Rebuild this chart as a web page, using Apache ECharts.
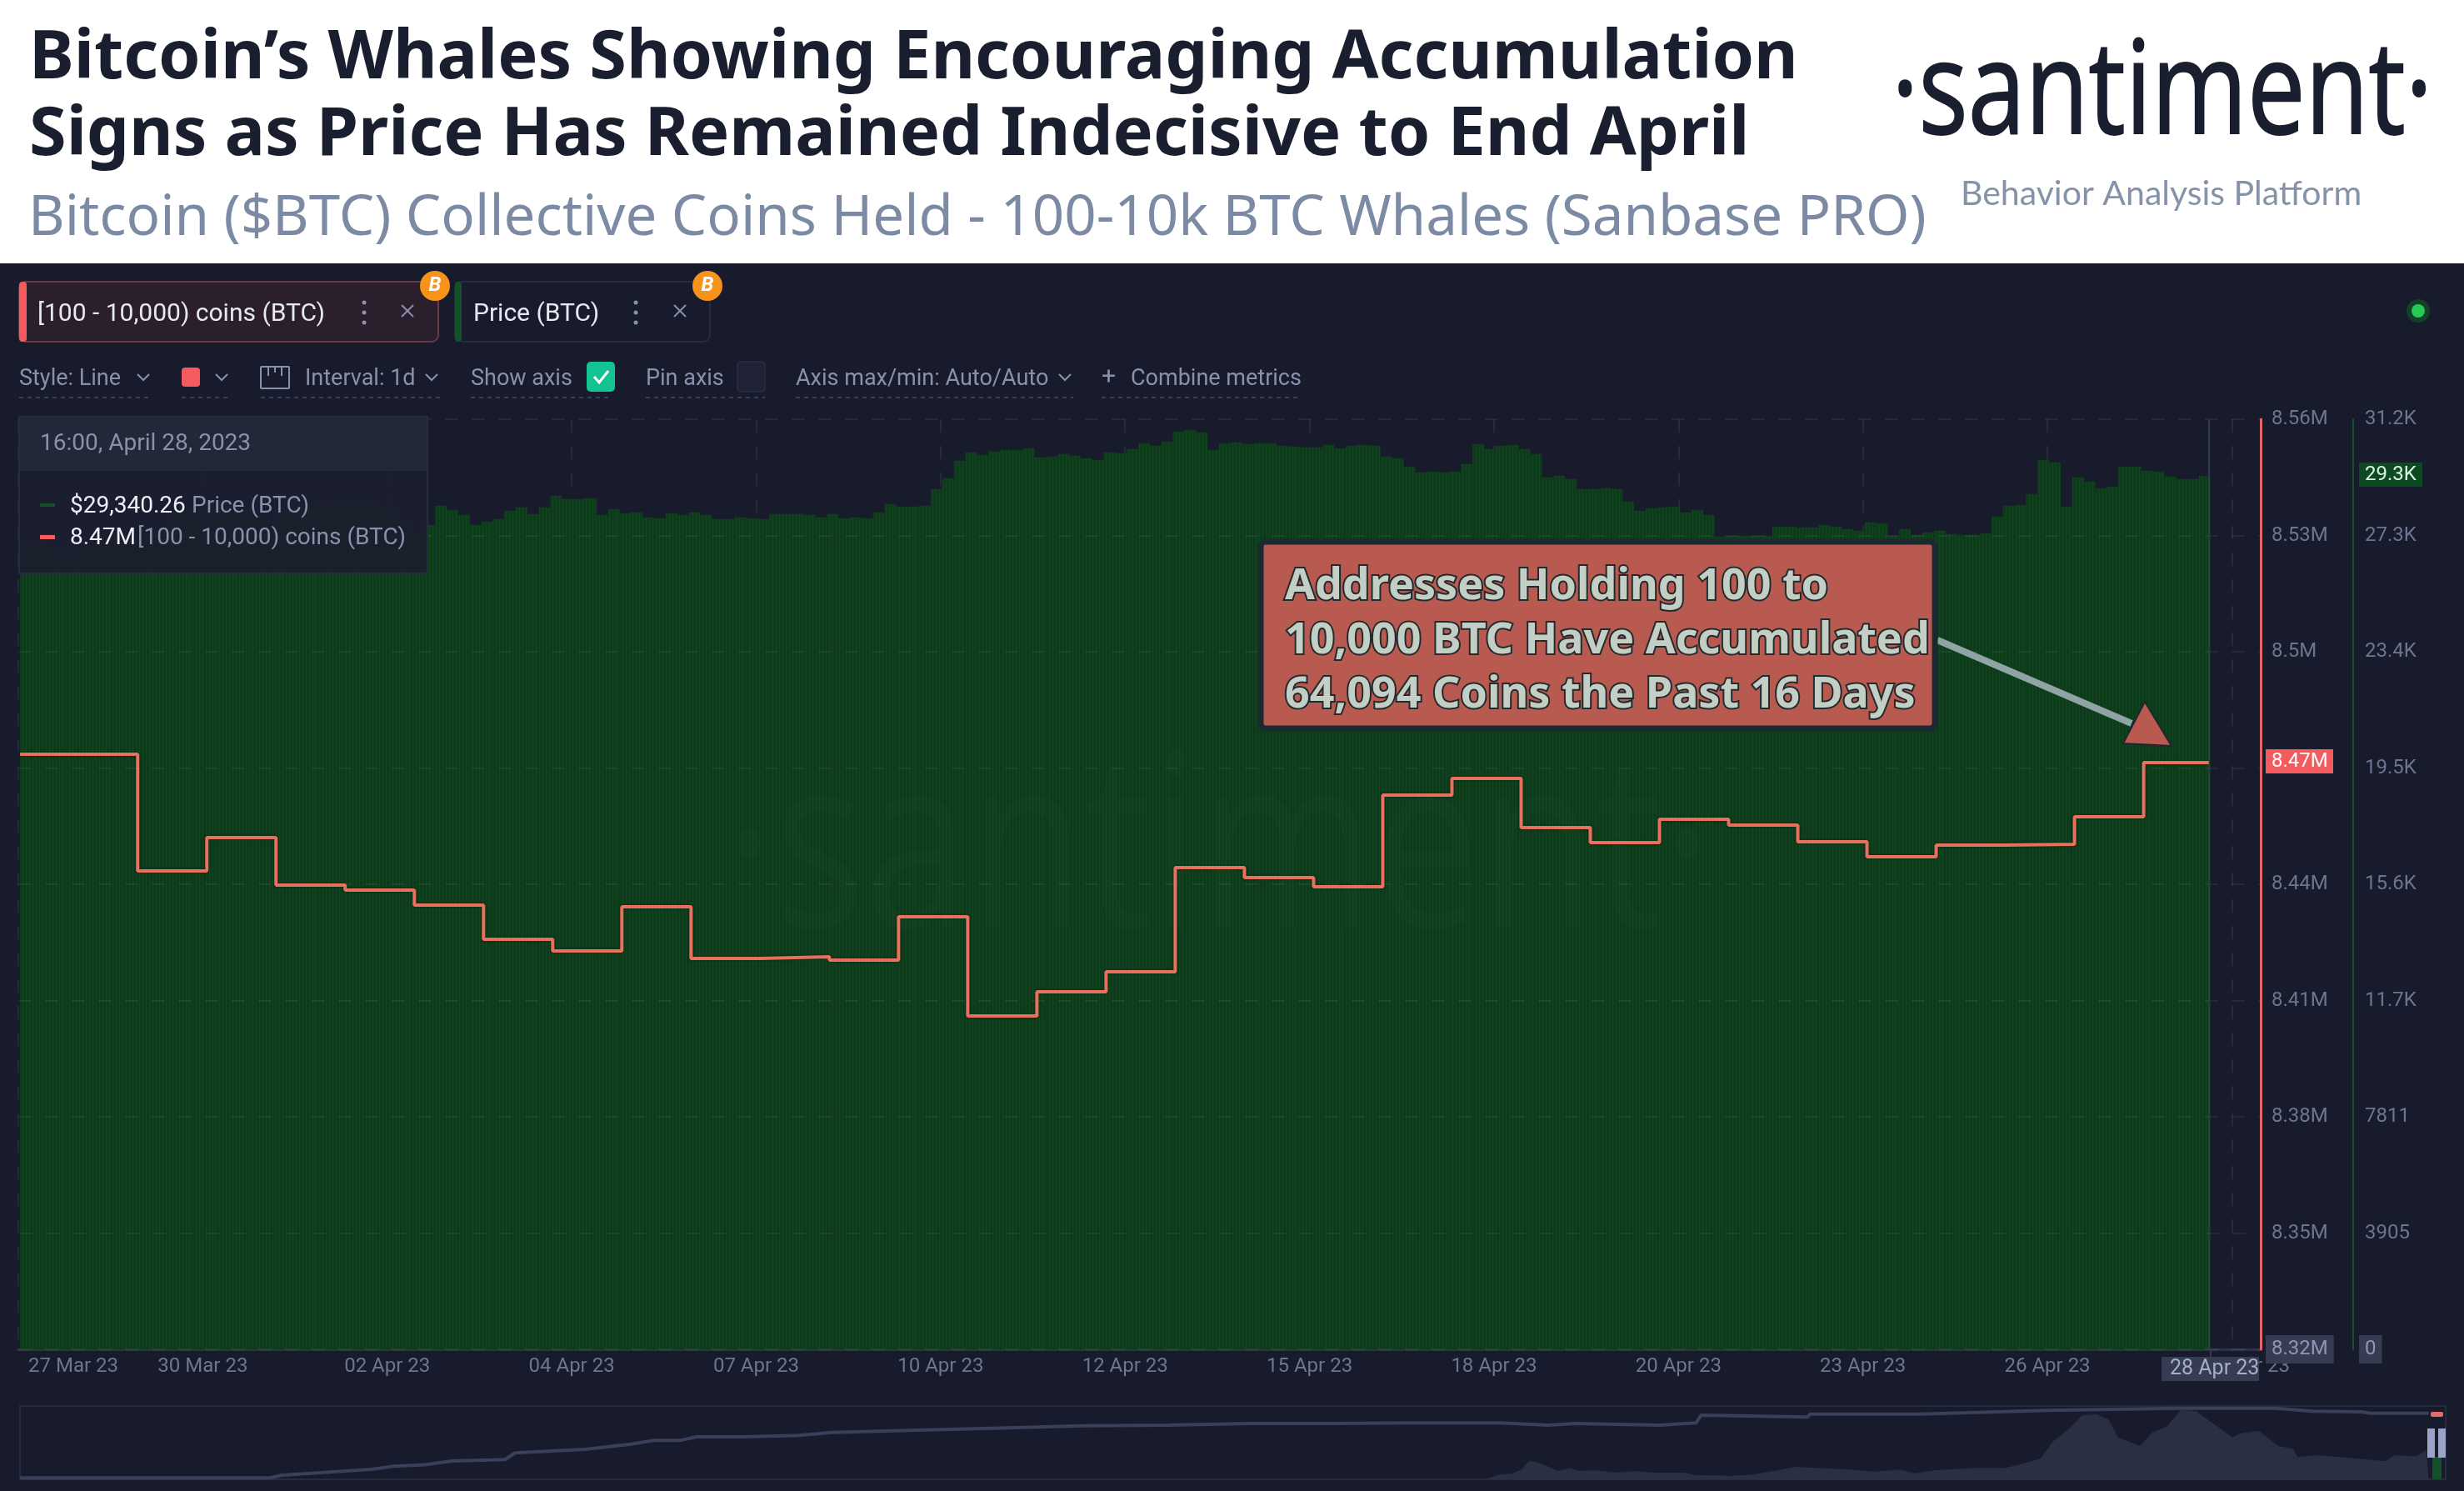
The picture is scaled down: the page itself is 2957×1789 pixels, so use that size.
<!DOCTYPE html>
<html>
<head>
<meta charset="utf-8">
<title>Bitcoin Whales</title>
<script src="https://cdn.jsdelivr.net/npm/echarts@6/dist/echarts.min.js"></script>
<style>
	html, body { margin: 0; padding: 0; background: #181b2b; }
	#chart { width: 2957px; height: 1789px; }
</style>
</head>
<body>
<div id="chart"></div>
<script>
// price (BTC), one value per 4 hours
var priceBtc = [
	27132, 26992, 26852, 26796, 26852, 26992, 27132, 27188, 27132, 27132, 27272, 27412, 27636, 27972, 28196, 28308, 28392, 28420, 28252, 28196,
	28028, 27832, 27972, 28196, 28308, 28420, 28364, 28420, 28448, 28420, 28364, 28252, 28112, 27832, 27412,
	27692, 28336, 28196, 28028, 27692, 27804, 27888, 28168, 28280, 28056, 28280, 28672, 28560, 28560, 28588, 28028, 28224, 28084, 28112, 27944,
	27916, 28084, 28028, 28112, 28028, 27888, 27888, 27944, 27916, 27888, 28056, 28056, 28056, 28028, 27944,
	28056, 27916, 27944, 27916, 28112, 28392, 28308, 28308, 28336, 28896, 29260, 29848, 30128, 30044, 30156, 30212, 30212, 30268, 29960, 29988,
	30072, 30016, 29932, 29876, 30128, 30100, 30240, 30436, 30352, 30492, 30828, 30884, 30800, 30212, 30436, 30464, 30408, 30436, 30436, 30352,
	30324, 30296, 30296, 30380, 30268, 30352, 30380, 30352, 29988, 29932, 29652, 29456, 29484, 29456, 29484, 29736, 30408, 30240, 30352, 30380,
	30240, 30072, 29288, 29344, 29232, 28896, 28896, 28924, 28896, 28476, 28168, 28252,
	28280, 28308, 28112, 28196, 28028, 27300, 27328, 27328, 27328, 27328, 27636, 27636, 27608, 27608, 27692, 27636, 27552, 27496, 27776, 27748,
	27328, 27552, 27356, 27440, 27496, 27384, 27356, 27356, 27412, 27972, 28336, 28364, 28728, 29876, 29792, 28308, 29288,
	29148, 28924, 28980, 29652, 29652, 29512, 29484, 29316, 29232, 29232, 29340.26
];

// [100 - 10,000) coins, one value per day
var whaleCoins = [
	8473700, 8443550, 8452170, 8439890, 8438600, 8434730, 8425900, 8422890, 8434300, 8420950,
	8421380, 8420520, 8431710, 8406090, 8412340, 8417500, 8444420, 8441830, 8439460, 8463150,
	8467450, 8454750, 8450870, 8456900, 8455400, 8451090, 8447210, 8450230, 8450440, 8457550,
	8471540
];

// overview strip at the bottom: [% across, % of height]
var navLine = [
	[0, 2], [8.6, 2], [10.3, 2], [10.8, 5.7], [14.5, 13.6], [15.4, 18], [16.7, 20], [17.8, 25], [20, 27], [20.4, 36],
	[23.3, 41], [25.2, 48], [26.1, 53], [27.2, 53], [27.9, 58], [29.9, 58], [32.1, 60], [33.5, 64], [37, 67], [40.4, 70],
	[43.8, 73], [47.3, 74], [50.7, 76], [54.1, 76], [57.6, 77], [61, 77], [63, 74], [64.1, 76], [67.6, 74], [69.1, 77],
	[69.3, 87.5], [73.7, 85], [73.8, 89], [78.3, 89], [83.6, 94], [88.9, 97], [93, 97], [94.5, 93], [96.5, 92], [96.9, 90], [99.3, 90]
];
var navPrice = [
	[60.4, 0], [61, 6.4], [61.5, 7.6], [61.9, 13.3], [62.2, 24.6], [62.5, 23.9], [62.9, 19], [63.4, 11.4], [63.9, 15.2], [64.3, 11.4],
	[64.9, 12.5], [65.8, 9.5], [66.6, 11], [67.4, 9.1], [68.6, 9.1], [69.1, 5.7], [70.6, 4.9], [71.4, 6.4], [72.3, 11.4], [73.2, 17],
	[74.2, 15.2], [75.5, 13.3], [76.5, 10.6], [77.5, 13.3], [78.1, 8.3], [79, 12.5], [80.5, 15.2], [81.8, 15.2], [82.5, 20.8], [83.3, 28.4],
	[83.8, 51], [84.5, 70], [85, 87], [85.6, 89], [86.1, 81.5], [86.5, 57], [87.4, 45.5], [87.9, 64], [88.5, 72], [89.1, 95],
	[89.7, 93], [90.6, 72], [91.2, 57], [91.5, 62.5], [92.3, 66], [93.1, 45.5], [93.7, 41.7], [93.9, 30.3], [94.7, 33], [96.5, 27.7],
	[97.5, 24.6], [97.9, 33], [98.8, 31.5], [99.2, 40]
];

var priceData = [];
for (var i = 0; i < priceBtc.length; i++) {
	priceData.push([4 * i + 2.6, priceBtc[i]]);
}

var whaleData = [[0.6, whaleCoins[0]]];
for (var i = 1; i < whaleCoins.length; i++) {
	whaleData.push([17.4 + 24 * i, whaleCoins[i]]);
}
whaleData.push([760, whaleCoins[whaleCoins.length - 1]]);

var navPriceData = navPrice.concat([[99.3, 0]]);

var MONTHS = ['Jan', 'Feb', 'Mar', 'Apr'];
var START = Date.UTC(2023, 2, 27, 16);

function hourLabel(h) {
	var d = new Date(START + h * 3600000);
	var day = d.getUTCDate();
	return (day < 10 ? '0' : '') + day + ' ' + MONTHS[d.getUTCMonth()] + ' 23';
}

var SANS = 'Roboto, sans-serif';
var MUTED = '#8a91ad';
var graphics = [];

function text(x, y, str, size, color, extra) {
	var el = {
		type: 'text', x: x, y: y, z: 50,
		style: {
			text: str, fontSize: size, fontFamily: SANS, fill: color,
			align: 'left', verticalAlign: 'middle'
		}
	};
	for (var k in extra) {
		if (k == 'style') {
			for (var s in extra.style) el.style[s] = extra.style[s];
		}
		else {
			el[k] = extra[k];
		}
	}
	graphics.push(el);
}

function rect(x, y, w, h, fill, stroke, r, lineWidth, z) {
	graphics.push({
		type: 'rect', z: z || 40,
		shape: { x: x, y: y, width: w, height: h, r: r || 0 },
		style: { fill: fill, stroke: stroke || null, lineWidth: lineWidth || 0 }
	});
}

function poly(points, color, width, z) {
	graphics.push({
		type: 'polyline', z: z || 50,
		shape: { points: points },
		style: { fill: null, stroke: color, lineWidth: width }
	});
}

function chevron(x, y) {
	poly([[x - 7, y - 3], [x, y + 4], [x + 7, y - 3]], MUTED, 2);
}

function kebab(x, y) {
	for (var i = -1; i <= 1; i++) {
		graphics.push({
			type: 'circle', z: 50,
			shape: { cx: x, cy: y + i * 12, r: 2.5 },
			style: { fill: MUTED }
		});
	}
}

function cross(x, y) {
	poly([[x - 7, y - 7], [x + 7, y + 7]], MUTED, 2);
	poly([[x + 7, y - 7], [x - 7, y + 7]], MUTED, 2);
}

function badge(x, y) {
	graphics.push({
		type: 'circle', z: 51,
		shape: { cx: x, cy: y, r: 18 },
		style: { fill: '#f7931a' }
	});
	text(x, y, 'B', 24, '#fff', { z: 52, style: { align: 'center', fontWeight: 700, fontStyle: 'italic' } });
}

function underline(x1, x2) {
	graphics.push({
		type: 'line', z: 40,
		shape: { x1: x1, y1: 477, x2: x2, y2: 477 },
		style: { stroke: '#3a3f55', lineWidth: 2, lineDash: [5, 5] }
	});
}

// header
rect(0, 0, 2957, 316, '#fff', null, 0, 0, 1);
text(2270, 116, '·santiment·', 155, '#1a1f2f', {
	scaleX: 0.8,
	style: { fontFamily: '"Open Sans"', stroke: '#1a1f2f', lineWidth: 2 }
});
text(2353, 233, 'Behavior Analysis Platform', 41, '#8593a8', { style: { fontFamily: 'Lato' } });

// metric chips
rect(23, 338, 503, 72, '#2c1f2d', '#6a3a46', 8, 2);
rect(23, 338, 9, 72, '#f45b5f', null, 4);
text(45, 377, '[100 - 10,000) coins (BTC)', 30, '#e6e8f2');
kebab(437, 375);
cross(489, 373);
badge(522, 343);
rect(546, 338, 306, 72, '#181b2b', '#262b3d', 8, 2);
rect(546, 338, 8, 72, '#14502a', null, 4);
text(568, 377, 'Price (BTC)', 30, '#e6e8f2');
kebab(763, 375);
cross(816, 373);
badge(849, 343);

// settings row
text(23, 455, 'Style: Line', 27, MUTED);
chevron(172, 452);
underline(23, 182);
rect(218, 441, 22, 23, '#f45b5f', null, 4);
chevron(266, 452);
underline(218, 276);
rect(313, 440, 34, 26, null, MUTED, 1, 2);
poly([[322, 440], [322, 451]], MUTED, 2);
poly([[330, 440], [330, 447]], MUTED, 2);
poly([[338, 440], [338, 451]], MUTED, 2);
text(366, 455, 'Interval: 1d', 27, MUTED);
chevron(518, 452);
underline(313, 528);
text(565, 455, 'Show axis', 27, MUTED);
rect(704, 434, 34, 36, '#14c393', null, 5);
poly([[713, 452], [719, 459], [730, 445]], '#fff', 3, 51);
underline(565, 735);
text(775, 455, 'Pin axis', 27, MUTED);
rect(885, 434, 33, 36, '#1f2335', '#262b3d', 5, 2);
underline(775, 918);
text(955, 455, 'Axis max/min: Auto/Auto', 27, MUTED);
chevron(1278, 452);
underline(955, 1288);
text(1322, 453, '+', 30, MUTED);
text(1357, 455, 'Combine metrics', 27, MUTED);
underline(1322, 1560);

// status dot
graphics.push({ type: 'circle', z: 40, shape: { cx: 2902, cy: 373, r: 14 }, style: { fill: '#14402a' } });
graphics.push({ type: 'circle', z: 41, shape: { cx: 2902, cy: 373, r: 8 }, style: { fill: '#26c953' } });

// hover box
rect(23, 500, 490, 188, 'rgba(27,30,46,0.93)', '#272c3e', 0, 2, 45);
rect(24, 501, 488, 64, '#232839', null, 0, 0, 46);
text(48, 533, '16:00, April 28, 2023', 28, MUTED, { z: 50 });
rect(48, 604, 18, 4, '#14502a', null, 0, 0, 47);
text(84, 608, '$29,340.26', 28, '#eef0f7');
text(230, 608, 'Price (BTC)', 28, MUTED);
rect(48, 642, 18, 5, '#f45b5f', null, 0, 0, 47);
text(84, 646, '8.47M', 28, '#eef0f7');
text(165, 646, '[100 - 10,000) coins (BTC)', 28, MUTED);

// watermark
text(870, 1030, '·santiment·', 290, 'rgba(255,255,255,0.016)', { z: 6, scaleX: 0.78, style: { fontFamily: '"Open Sans"' } });

// callout
poly([[2325, 768], [2558, 868]], '#8fa5a5', 8, 30);
graphics.push({
	type: 'polygon', z: 31,
	shape: { points: [[2574, 842], [2548, 892], [2606, 895]] },
	style: { fill: '#b85a50', stroke: '#20262e', lineWidth: 2 }
});
rect(1513, 650, 809, 224, '#b85a50', '#1b2a30', 6, 7, 30);
var NOTE = {
	z: 32,
	style: { fontFamily: '"Noto Sans"', fontWeight: 700, stroke: '#232a2e', lineWidth: 4, paintOrder: 'stroke' }
};
text(1542, 704, 'Addresses Holding 100 to', 52, '#c3cfc5', NOTE);
text(1542, 769, '10,000 BTC Have Accumulated', 52, '#c3cfc5', NOTE);
text(1542, 834, '64,094 Coins the Past 16 Days', 52, '#c3cfc5', NOTE);

// axis value tags
rect(2719, 899, 81, 29, '#f45b5f', null, 0, 0, 40);
text(2726, 914, '8.47M', 24, '#fff');
rect(2831, 555, 76, 29, '#0d4a22', null, 0, 0, 40);
text(2838, 570, '29.3K', 24, '#d9f5dd');

// crosshair date
poly([[2653, 1618], [2653, 1628]], '#333a4d', 2, 40);
rect(2594, 1628, 117, 29, '#363c52', null, 0, 0, 40);
text(2604, 1643, '28 Apr 23', 25, '#a5adca');

// overview selection
rect(2919, 1748, 11, 27, '#14502a', null, 0, 0, 40);
rect(2913, 1714, 9, 35, '#9aa3c7', null, 0, 0, 41);
rect(2926, 1714, 9, 35, '#9aa3c7', null, 0, 0, 41);
rect(2917, 1694, 15, 6, '#e8686b', null, 2, 0, 41);

var LABEL_RICH = {
	n: { color: '#6d7590', fontFamily: SANS, fontSize: 24, padding: [5, 7] },
	low: { color: '#8f96b3', fontFamily: SANS, fontSize: 24, padding: [5, 7], backgroundColor: '#363c52' }
};

var chart = echarts.init(document.getElementById('chart'));
var option = {
	animation: false,
	backgroundColor: '#181b2b',
	title: [
		{
			text: 'Bitcoin’s Whales Showing Encouraging Accumulation\nSigns as Price Has Remained Indecisive to End April',
			left: 30,
			top: 20,
			textStyle: { fontFamily: '"Noto Sans"', fontWeight: 700, fontSize: 81, lineHeight: 92, color: '#1a1f2f' }
		},
		{
			text: 'Bitcoin ($BTC) Collective Coins Held - 100-10k BTC Whales (Sanbase PRO)',
			left: 29,
			top: 224,
			textStyle: { fontFamily: '"Noto Sans"', fontWeight: 400, fontSize: 67.2, color: '#7d8aa3' }
		}
	],
	grid: [
		{ left: 22, top: 503, width: 2691, height: 1116 },
		{ left: 24, top: 1687, width: 2911, height: 88, show: true, borderColor: '#262b3d', borderWidth: 2, backgroundColor: 'transparent' }
	],
	xAxis: [
		{
			type: 'value',
			min: 0,
			max: 778,
			interval: 64,
			axisTick: { show: false },
			axisLine: { onZero: false, lineStyle: { color: '#2e3345', width: 3 } },
			splitLine: { show: true, lineStyle: { color: '#262a3b', width: 2, type: [16, 16] } },
			axisLabel: {
				showMaxLabel: false,
				margin: 9,
				color: '#6d7590',
				fontFamily: SANS,
				fontSize: 24,
				formatter: function(h) {
					if (h == 0) return '{first|' + hourLabel(h) + '}';
					if (h == 768) return '{last|' + hourLabel(h) + '}';
					return hourLabel(h);
				},
				rich: {
					first: { color: '#6d7590', fontFamily: SANS, fontSize: 24, padding: [0, 0, 0, 132] },
					last: { color: '#6d7590', fontFamily: SANS, fontSize: 24, padding: [0, 0, 0, 36] }
				}
			}
		},
		{ type: 'value', gridIndex: 1, min: 0, max: 100, show: false }
	],
	yAxis: [
		{
			type: 'value',
			position: 'right',
			min: 8319972,
			max: 8560260,
			interval: 30036,
			z: 3,
			axisTick: { show: false },
			axisLine: { show: true, onZero: false, lineStyle: { color: '#e4666c', width: 3 } },
			splitLine: { show: true, lineStyle: { color: 'rgba(255,255,255,0.06)', width: 2, type: [16, 16] } },
			axisLabel: {
				margin: 6,
				formatter: function(v) {
					var s = +(v / 1000000).toFixed(2) + 'M';
					return (v == 8319972 ? '{low|' : '{n|') + s + '}';
				},
				rich: LABEL_RICH
			}
		},
		{
			type: 'value',
			position: 'right',
			offset: 111,
			min: 0,
			max: 31243.2,
			interval: 3905.4,
			axisTick: { show: false },
			axisLine: { show: true, onZero: false, lineStyle: { color: '#14502a', width: 2 } },
			splitLine: { show: false },
			axisLabel: {
				margin: 7,
				formatter: function(v) {
					if (v == 0) return '{low|0}';
					return '{n|' + (v >= 10000 ? (v / 1000).toFixed(1) + 'K' : Math.round(v)) + '}';
				},
				rich: LABEL_RICH
			}
		},
		{ type: 'value', gridIndex: 1, min: 0, max: 100, show: false }
	],
	graphic: graphics,
	series: [
		{
			name: 'Price (BTC)',
			type: 'bar',
			xAxisIndex: 0,
			yAxisIndex: 1,
			barWidth: 14,
			z: 2,
			data: priceData,
			itemStyle: {
				color: '#10461f',
				decal: {
					symbol: 'rect',
					symbolSize: 1,
					dashArrayX: [3, 1],
					dashArrayY: [4, 0],
					color: 'rgba(0,0,0,0.14)'
				}
			}
		},
		{
			name: '[100 - 10,000) coins (BTC)',
			type: 'line',
			step: 'end',
			xAxisIndex: 0,
			yAxisIndex: 0,
			z: 5,
			showSymbol: false,
			data: whaleData,
			lineStyle: {
				color: '#e8705f',
				width: 4,
				shadowColor: 'rgba(0,0,0,0.45)',
				shadowBlur: 3
			},
			markLine: {
				silent: true,
				symbol: 'none',
				label: { show: false },
				lineStyle: { color: '#333a4d', width: 2, type: 'solid' },
				data: [{ xAxis: 760 }]
			}
		},
		{
			type: 'line',
			xAxisIndex: 1,
			yAxisIndex: 2,
			showSymbol: false,
			data: navPriceData,
			lineStyle: { width: 0 },
			areaStyle: { color: '#2a2f44', opacity: 1 }
		},
		{
			type: 'line',
			xAxisIndex: 1,
			yAxisIndex: 2,
			showSymbol: false,
			data: navLine,
			lineStyle: { color: '#3a4059', width: 4 }
		}
	]
};
chart.setOption(option);
</script>
</body>
</html>
